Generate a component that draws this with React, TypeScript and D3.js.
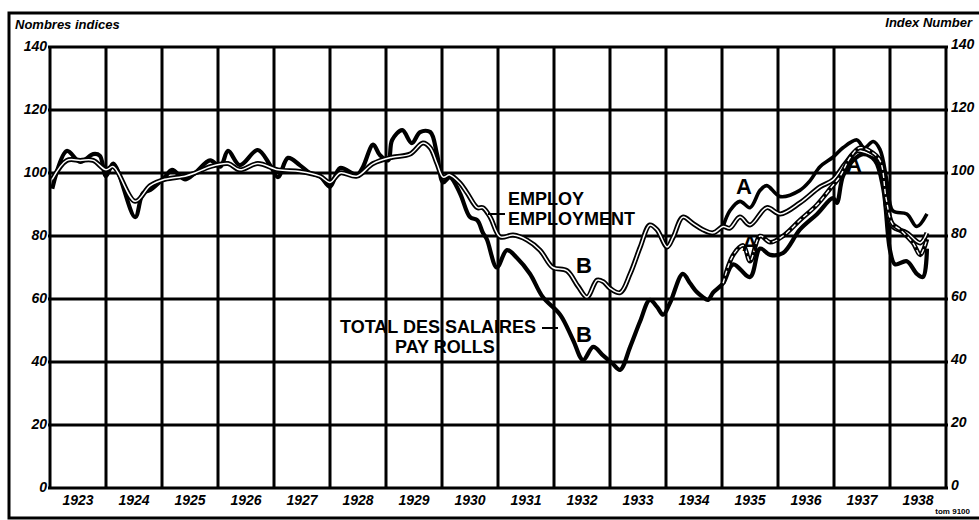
import React from 'react';
import * as d3 from 'd3';

// year boundaries and index ticks
const years = d3.range(1923, 1939);
const yTicks = [0, 20, 40, 60, 80, 100, 120, 140];

// [decimal year, index]
const payRollsB: [number, number][] = [
  [1923.04, 95], [1923.3, 107], [1923.54, 103.5], [1923.77, 106], [1923.89, 105.5], [1924.0, 99],
  [1924.13, 103], [1924.52, 86], [1924.66, 93.6], [1924.79, 94.6], [1925.05, 98.7], [1925.18, 101],
  [1925.41, 98], [1925.59, 100], [1925.86, 104], [1926.04, 102], [1926.18, 107], [1926.39, 102.5],
  [1926.71, 107.3], [1926.93, 102.5], [1927.07, 98.7], [1927.25, 104.8], [1927.46, 102.5], [1927.64, 100],
  [1927.82, 99], [1928.0, 95.6], [1928.18, 101.6], [1928.48, 99.4], [1928.59, 102], [1928.77, 109],
  [1928.89, 105.7], [1929.04, 104], [1929.11, 110.5], [1929.29, 113.6], [1929.46, 109.5], [1929.61, 113],
  [1929.79, 113], [1929.91, 106], [1930.02, 97], [1930.14, 98.7], [1930.32, 93.6], [1930.5, 86],
  [1930.63, 85], [1930.73, 81], [1930.8, 79], [1930.98, 70], [1931.16, 75.5], [1931.34, 73],
  [1931.57, 68], [1931.8, 60.6], [1932.11, 55], [1932.34, 47], [1932.52, 40.6], [1932.7, 44.8],
  [1932.88, 42], [1933.04, 39.6], [1933.18, 37.5], [1933.36, 44.8], [1933.54, 53], [1933.71, 59.7],
  [1933.84, 57.5], [1933.95, 55], [1934.07, 58.7], [1934.3, 68], [1934.43, 65], [1934.55, 62.2],
  [1934.66, 60.6], [1934.75, 59.7], [1934.84, 62], [1935.02, 65], [1935.2, 71], [1935.5, 67],
  [1935.68, 76], [1935.86, 74], [1936.09, 74.6], [1936.39, 82], [1936.7, 87], [1936.98, 92],
  [1937.05, 90.5], [1937.16, 99], [1937.34, 104], [1937.52, 106], [1937.73, 104], [1937.88, 95],
  [1938.0, 75.5], [1938.09, 71], [1938.3, 72], [1938.48, 68], [1938.59, 67], [1938.66, 76],
];

const employmentB: [number, number][] = [
  [1923.04, 98], [1923.3, 104], [1923.54, 104], [1923.77, 104], [1924.0, 101], [1924.13, 102],
  [1924.52, 91], [1924.79, 96], [1925.05, 98], [1925.41, 99], [1925.59, 100], [1925.86, 102],
  [1926.18, 103], [1926.39, 101], [1926.71, 103], [1927.07, 101], [1927.46, 100.5], [1927.82, 99],
  [1928.0, 97], [1928.18, 100], [1928.48, 99], [1928.77, 103], [1929.11, 105], [1929.43, 106],
  [1929.66, 109.5], [1929.79, 108], [1929.91, 103], [1930.02, 98.7], [1930.14, 99.4], [1930.32, 96.8],
  [1930.45, 93.6], [1930.63, 89], [1930.73, 89], [1930.86, 86], [1931.04, 79.7], [1931.27, 80.3],
  [1931.52, 78.7], [1931.75, 75.5], [1931.98, 70], [1932.23, 69], [1932.43, 64], [1932.59, 60.6],
  [1932.77, 66], [1932.88, 65.5], [1933.0, 63.4], [1933.18, 62], [1933.36, 68], [1933.54, 76.5],
  [1933.71, 83.5], [1933.84, 82], [1934.02, 76.5], [1934.13, 79.7], [1934.3, 86], [1934.48, 84],
  [1934.66, 82], [1934.84, 81], [1935.02, 83], [1935.14, 82.5], [1935.32, 86], [1935.5, 83.5],
  [1935.8, 89], [1936.04, 87], [1936.39, 90.5], [1936.75, 95.6], [1936.98, 97.8], [1937.2, 103],
  [1937.41, 107], [1937.64, 106], [1937.82, 104], [1937.95, 88], [1938.05, 83], [1938.3, 81],
  [1938.54, 77.8], [1938.66, 81],
];

const employmentA: [number, number][] = [
  [1935.02, 83], [1935.14, 88], [1935.32, 91], [1935.5, 89], [1935.68, 94.5], [1935.8, 96],
  [1936.04, 92.5], [1936.39, 94.5], [1936.57, 97.5], [1936.75, 102], [1936.98, 105], [1937.16, 108],
  [1937.41, 110.5], [1937.54, 108], [1937.7, 110], [1937.82, 107.5], [1937.95, 97], [1938.05, 88],
  [1938.3, 87], [1938.48, 83], [1938.66, 87],
];

const payRollsA: [number, number][] = [
  [1935.02, 65], [1935.2, 74], [1935.38, 77], [1935.5, 72], [1935.68, 80], [1935.86, 78],
  [1936.09, 80], [1936.39, 85], [1936.7, 90], [1936.93, 95], [1937.11, 99], [1937.29, 105],
  [1937.46, 108], [1937.64, 107], [1937.82, 104], [1937.93, 92], [1938.04, 84], [1938.18, 82],
  [1938.41, 77.8], [1938.54, 74], [1938.66, 79],
];

const W = 979;
const H = 520;
const font = '"Liberation Sans", Arial, sans-serif';

const x = d3.scaleLinear().domain([1923, 1939]).range([50, 946]);
const y = d3.scaleLinear().domain([0, 140]).range([488, 47]);
const line = d3
  .line<[number, number]>()
  .x((d) => x(d[0]))
  .y((d) => y(d[1]))
  .curve(d3.curveCatmullRom.alpha(0.5));

const App = () => {
  return (
    <svg
      width={W}
      height={H}
      style={{ position: 'absolute', left: 0, top: 0, background: '#fff' }}
    >
      {/* outer frame */}
      <path d={`M979,13 H9 V518 H979`} fill="none" stroke="#000" strokeWidth={3} />

      <text x={15} y={29} fontFamily={font} fontSize={13} fontWeight="bold" fontStyle="italic">
        Nombres indices
      </text>
      <text x={972} y={27} textAnchor="end" fontFamily={font} fontSize={13} fontWeight="bold" fontStyle="italic">
        Index Number
      </text>

      {/* grid */}
      <g stroke="#000" strokeWidth={3}>
        {yTicks.map((t) => (
          <line key={t} x1={x(1923) - 2} x2={x(1939) + 2} y1={y(t)} y2={y(t)} />
        ))}
        {[...years, 1939].map((yr) => (
          <line key={yr} x1={x(yr)} x2={x(yr)} y1={y(140)} y2={y(0)} />
        ))}
      </g>

      <g fontFamily={font} fontSize={14} fontWeight="bold" fontStyle="italic">
        {yTicks.map((t) => (
          <React.Fragment key={t}>
            <text x={47} y={y(t) + 4} textAnchor="end">{t}</text>
            <text x={951} y={y(t) + 2}>{t}</text>
          </React.Fragment>
        ))}
        {years.map((yr) => (
          <text key={yr} x={x(yr + 0.5)} y={505} textAnchor="middle">{yr}</text>
        ))}
      </g>
      <text x={970} y={514} textAnchor="end" fontFamily={font} fontSize={8} fontWeight="bold">
        tom 9100
      </text>

      {/* series */}
      <path d={line(payRollsB) ?? ''} fill="none" stroke="#000" strokeWidth={4.2} strokeLinejoin="round" />
      <path d={line(employmentA) ?? ''} fill="none" stroke="#000" strokeWidth={3.6} strokeLinejoin="round" />
      <path d={line(employmentB) ?? ''} fill="none" stroke="#000" strokeWidth={5} strokeLinejoin="round" />
      <path d={line(employmentB) ?? ''} fill="none" stroke="#fff" strokeWidth={1.5} strokeLinejoin="round" />
      <path d={line(payRollsA) ?? ''} fill="none" stroke="#000" strokeWidth={4.6} strokeLinejoin="round" />
      <path d={line(payRollsA) ?? ''} fill="none" stroke="#fff" strokeWidth={1.4} strokeDasharray="5 3" strokeLinejoin="round" />

      {/* labels */}
      <g fontFamily={font} fontSize={18} fontWeight="bold">
        <text x={508} y={205}>EMPLOY</text>
        <text x={508} y={225}>EMPLOYMENT</text>
        <text x={340} y={333}>TOTAL DES SALAIRES</text>
        <text x={395} y={353}>PAY ROLLS</text>
      </g>
      <g stroke="#000" strokeWidth={2}>
        <line x1={488} x2={505} y1={214} y2={214} />
        <line x1={542} x2={558} y1={328} y2={328} />
      </g>
      <g fontFamily={font} fontSize={22} fontWeight="bold">
        <text x={576} y={273}>B</text>
        <text x={576} y={342}>B</text>
        <text x={736} y={194}>A</text>
        <text x={742} y={251}>A</text>
        <text x={846} y={172}>A</text>
      </g>
    </svg>
  );
};

export default App;
